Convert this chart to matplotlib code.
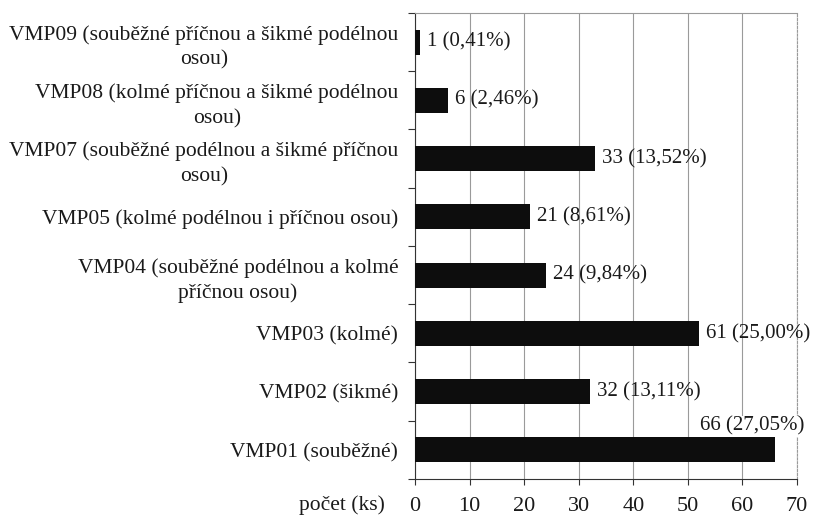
import matplotlib
matplotlib.use("Agg")
import matplotlib.pyplot as plt

# categories bottom -> top
categories = [
    "VMP01 (souběžné)",
    "VMP02 (šikmé)",
    "VMP03 (kolmé)",
    "VMP04 (souběžné podélnou a kolmé\npříčnou osou)",
    "VMP05 (kolmé podélnou i příčnou osou)",
    "VMP07 (souběžné podélnou a šikmé příčnou\nosou)",
    "VMP08 (kolmé příčnou a šikmé podélnou\nosou)",
    "VMP09 (souběžné příčnou a šikmé podélnou\nosou)",
]
# bar lengths as drawn in the source figure (VMP03 bar is drawn short there)
bar_lengths = [66, 32, 52, 24, 21, 33, 6, 1]
counts = [66, 32, 61, 24, 21, 33, 6, 1]
shares = ["27,05", "13,11", "25,00", "9,84", "8,61", "13,52", "2,46", "0,41"]
x_ticks = [0, 10, 20, 30, 40, 50, 60, 70]

plt.rcParams["font.family"] = ["Liberation Serif", "DejaVu Serif"]
TEXT = "#1a1a1a"
GRID = "#9a9a9a"
FS = 15.5
VAL_FS = 15

fig = plt.figure(figsize=(8.13, 5.17), dpi=100, facecolor="white")
ax = fig.add_axes([0.5105, 0.0735, 0.4698, 0.9014])

ypos = list(range(len(categories)))
ax.barh(ypos, bar_lengths, height=0.43, color="#0d0d0d", zorder=3)

ax.set_xlim(0, 70)
ax.set_ylim(-0.5, len(categories) - 0.5)
ax.set_xticks(x_ticks)
ax.set_xticklabels([str(t) for t in x_ticks])
ax.set_yticks(ypos)
ax.set_yticklabels(categories, multialignment="center", linespacing=1.4)
ax.set_yticks([y - 0.5 for y in ypos] + [len(categories) - 0.5], minor=True)
ax.tick_params(axis="y", which="major", length=0, pad=12, labelsize=FS, labelcolor=TEXT)
ax.tick_params(axis="y", which="minor", length=5, color="#333333", width=0.8)
ax.tick_params(axis="x", which="major", length=4, pad=9, labelsize=16,
               labelcolor=TEXT, color="#333333", width=0.8)

ax.grid(True, axis="x", color=GRID, linewidth=0.8, zorder=0)
ax.set_axisbelow(True)
ax.spines["left"].set_color("#333333")
ax.spines["bottom"].set_color("#333333")
ax.spines["top"].set_color(GRID)
ax.spines["right"].set_color(GRID)
ax.spines["right"].set_linestyle((0, (2, 1.5)))

for y, w, c, s in zip(ypos, bar_lengths, counts, shares):
    label = "%d (%s%%)" % (c, s)
    if y == 0:
        # the largest bar's label sits above the bar end
        ax.annotate(label, (70, y), textcoords="offset points", xytext=(5, 17),
                    ha="right", va="center", fontsize=VAL_FS, color=TEXT, zorder=4,
                    bbox=dict(facecolor="white", edgecolor="none", pad=0.5))
    else:
        ax.annotate(label, (w, y), textcoords="offset points", xytext=(5, 0),
                    ha="left", va="center", fontsize=VAL_FS, color=TEXT, zorder=4)

ax.annotate("počet (ks)", (0, 0), xycoords="axes fraction", textcoords="offset points",
            xytext=(-22, -19), ha="right", va="center", fontsize=FS, color=TEXT)

fig.savefig("out.png", dpi=100, facecolor=fig.get_facecolor())
